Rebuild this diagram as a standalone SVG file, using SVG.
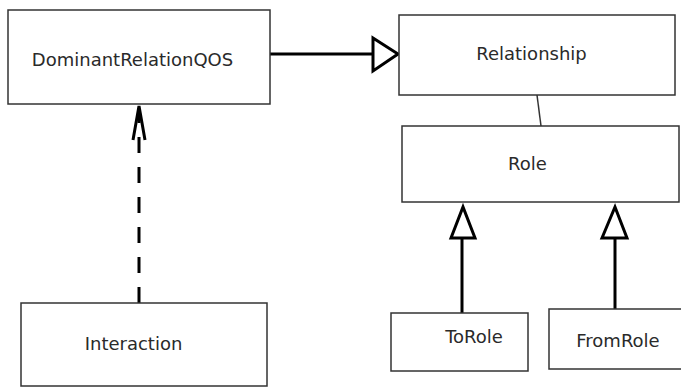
<svg xmlns="http://www.w3.org/2000/svg" width="681" height="387" viewBox="0 0 681 387">
<style>
.box{fill:#fff;stroke:#333;stroke-width:1.5}
.lbl{font-family:"DejaVu Sans",sans-serif;font-size:18px;fill:#2a2a2a;text-anchor:middle}
.thick{fill:none;stroke:#000;stroke-width:3}
.tri{fill:#fff;stroke:#000;stroke-width:3;stroke-linejoin:miter}
</style>
<rect width="681" height="387" fill="#fff"/>
<g id="connectors">
<line class="thick" x1="270" y1="54" x2="373" y2="54"/>
<polygon class="tri" points="373,38 398,54 373,71"/>
<line x1="537" y1="95" x2="541" y2="126" stroke="#333" stroke-width="1.5"/>
<line class="thick" x1="139" y1="303" x2="139" y2="114" stroke-dasharray="16,14"/>
<polyline class="thick" points="133,140 139,106 145,140" stroke-width="2.5"/>
<polyline fill="none" stroke="#000" stroke-width="2.5" points="139,310 144,310 144,305"/>
<line class="thick" x1="462" y1="238" x2="462" y2="313"/>
<polygon class="tri" points="451,238 463,207 475,238"/>
<line class="thick" x1="615" y1="238" x2="615" y2="309"/>
<polygon class="tri" points="602,238 615,207 627,238"/>
</g>
<g id="DominantRelationQOS">
<rect class="box" x="8" y="10" width="262" height="94"/>
<text class="lbl" x="132.5" y="66">DominantRelationQOS</text>
</g>
<g id="Relationship">
<rect class="box" x="399" y="15" width="276" height="80"/>
<text class="lbl" x="531.5" y="60">Relationship</text>
</g>
<g id="Role">
<rect class="box" x="402" y="126" width="277" height="76"/>
<text class="lbl" x="527.5" y="170">Role</text>
</g>
<g id="Interaction">
<rect class="box" x="21" y="303" width="246" height="83"/>
<text class="lbl" x="133.5" y="350">Interaction</text>
</g>
<g id="ToRole">
<rect class="box" x="391" y="313" width="137" height="58"/>
<text class="lbl" x="474" y="343">ToRole</text>
</g>
<g id="FromRole">
<rect class="box" x="549" y="309" width="140" height="60"/>
<text class="lbl" x="618" y="347">FromRole</text>
</g>
</svg>
